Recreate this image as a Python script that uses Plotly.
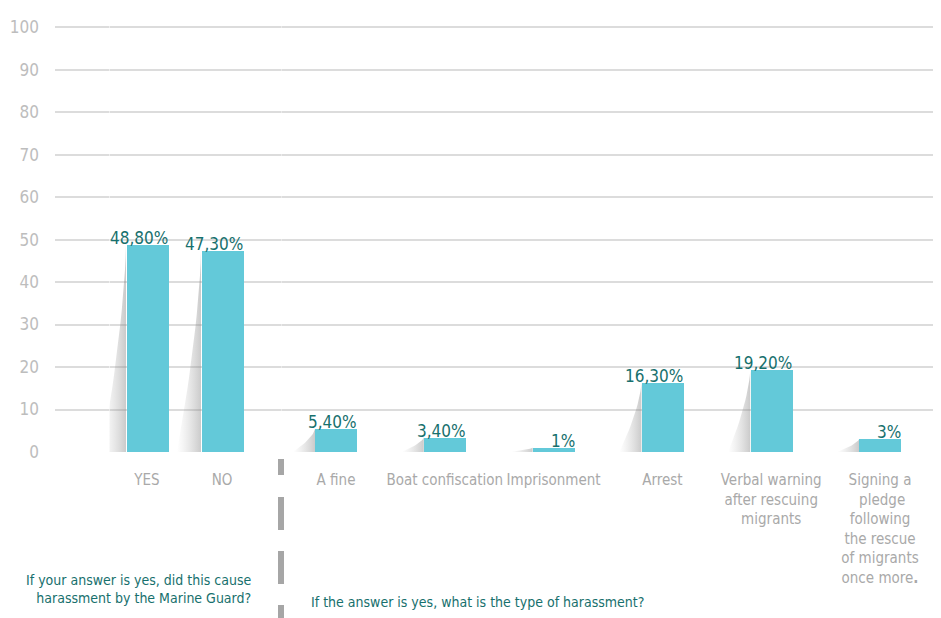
import plotly.graph_objects as go

# ---- data ----
cats_left = ["YES", "NO"]
vals_left = [48.8, 47.3]
labels_left = ["48,80%", "47,30%"]

cats_right = ["A fine", "Boat confiscation", "Imprisonment", "Arrest",
              "Verbal warning<br>after rescuing<br>migrants",
              "Signing a<br> pledge<br>following<br>the rescue<br>of migrants<br>once more<b>.</b>"]
vals_right = [5.4, 3.4, 1.0, 16.3, 19.2, 3.0]
labels_right = ["5,40%", "3,40%", "1%", "16,30%", "19,20%", "3%"]

y_ticks = list(range(0, 101, 10))
note_left = "If your answer is yes, did this cause<br>harassment by the Marine Guard?"
note_right = "If the answer is yes, what is the type of harassment?"

# ---- style ----
COND = "DejaVu Sans Condensed, Liberation Sans Narrow, sans-serif"
BAR = "#63c9d9"
TEAL = "#17706d"
GRAY_TXT = "#a9a9a9"
GRID = "#dcdcdc"

OFF = 8  # default page body margin
W, H = 941 - OFF, 618 - OFF
ML, MR, MT, MB = 55 - OFF, 0, 25 - OFF, 166
PW = W - ML - MR
PH = H - MT - MB

def px_x(rx):  # reference page x -> paper
    return (rx - OFF - ML) / PW

def px_y(ry):  # reference page y -> paper
    return (H - MB - (ry - OFF)) / PH

fig = go.Figure()

# invisible anchor trace for the full-width base axes
fig.add_trace(go.Scatter(x=[0, 1], y=[0, 0], mode="lines", line=dict(width=0),
                         xaxis="x", yaxis="y", hoverinfo="skip", showlegend=False))

def add_group(cats, vals, xa, halfw, shw):
    idx = list(range(len(cats)))
    n = 16
    for i, v in zip(idx, vals):
        L = i - halfw
        sx = [L, L] + [L - shw * ((1 - k / n)) ** 1.5 for k in range(n + 1)] + [L]
        sy = [v, 0] + [v * (k / n) for k in range(n + 1)] + [v]
        fig.add_trace(go.Scatter(
            x=sx, y=sy, mode="lines", fill="toself", line=dict(width=0),
            fillgradient=dict(type="horizontal",
                              colorscale=[[0, "rgba(170,170,170,0)"],
                                          [1, "rgba(130,130,130,0.42)"]]),
            xaxis=xa, yaxis="y", hoverinfo="skip", showlegend=False))
    fig.add_trace(go.Bar(x=idx, y=vals, width=2 * halfw, marker=dict(color=BAR, line=dict(width=0)),
                         xaxis=xa, yaxis="y", hoverinfo="skip", showlegend=False))

# left group: spacing 75px, bar 42px
add_group(cats_left, vals_left, "x2", 21 / 75, 24 / 75)
# right group: spacing 108.8px
add_group(cats_right, vals_right, "x3", 21 / 108.8, 22 / 108.8)

ann = []
for xa, cats, vals, labs in [("x2", cats_left, vals_left, labels_left),
                             ("x3", cats_right, vals_right, labels_right)]:
    for i, (v, lab) in enumerate(zip(vals, labs)):
        ann.append(dict(x=i, y=v, xref=xa, yref="y", text=lab, showarrow=False,
                        xanchor="right", yanchor="bottom", xshift=23, yshift=-5,
                        font=dict(family=COND, size=17, color=TEAL)))

ann.append(dict(x=px_x(253), y=px_y(589), xref="paper", yref="paper",
                text=note_left, showarrow=False, align="right", xanchor="right", yanchor="middle",
                font=dict(family=COND, size=14, color=TEAL)))
ann.append(dict(x=px_x(309), y=px_y(602), xref="paper", yref="paper",
                text=note_right, showarrow=False, align="left", xanchor="left", yanchor="middle",
                font=dict(family=COND, size=14, color=TEAL)))

xd = px_x(281)
shapes = [
    dict(type="line", xref="paper", yref="paper", x0=xd, x1=xd,
         y0=px_y(459), y1=px_y(475),
         line=dict(color="#a6a6a6", width=6)),
    dict(type="line", xref="paper", yref="paper", x0=xd, x1=xd,
         y0=px_y(497), y1=px_y(640),
         line=dict(color="#a6a6a6", width=6, dash="33px,21px")),
]

tickfont_x = dict(family=COND, size=15, color=GRAY_TXT)

fig.update_layout(
    width=W, height=H, margin=dict(l=ML, r=MR, t=MT, b=MB, autoexpand=False),
    paper_bgcolor="white", plot_bgcolor="white",
    showlegend=False, bargap=0,
    xaxis=dict(domain=[0, 1], range=[0, 1], showticklabels=False, showgrid=False,
               zeroline=False, showline=False, fixedrange=True, automargin=False),
    yaxis=dict(anchor="x", range=[0, 100.5], tickvals=y_ticks, showgrid=True,
               gridcolor=GRID, gridwidth=2, zeroline=False, showline=False, ticks="",
               ticklabelstandoff=15, automargin=False,
               tickfont=dict(family=COND, size=17, color="#bdbdbd")),
    xaxis2=dict(domain=[px_x(109.5), px_x(259.5)], anchor="y", range=[-0.5, 1.5],
                tickvals=list(range(len(cats_left))), ticktext=cats_left, tickangle=0,
                showgrid=False, zeroline=False, showline=False, ticks="", automargin=False,
                ticklabelstandoff=17, tickfont=tickfont_x),
    xaxis3=dict(domain=[px_x(281.6), px_x(934.4)], anchor="y", range=[-0.5, 5.5],
                tickvals=list(range(len(cats_right))), ticktext=cats_right, tickangle=0,
                showgrid=False, zeroline=False, showline=False, ticks="", automargin=False,
                ticklabelstandoff=17, tickfont=tickfont_x),
    annotations=ann, shapes=shapes,
)

fig.write_html("out.html")
